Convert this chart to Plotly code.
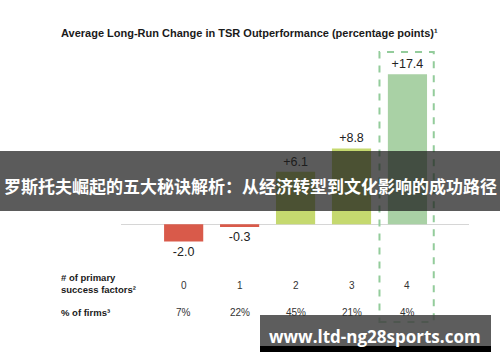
import plotly.graph_objects as go

# ---- data ----
factors = [0, 1, 2, 3, 4]
factor_labels = ["0", "1", "2", "3", "4"]
tsr_change = [-2.0, -0.3, 6.1, 8.8, 17.4]
value_labels = ["-2.0", "-0.3", "+6.1", "+8.8", "+17.4"]
pct_firms = ["7%", "22%", "45%", "21%", "4%"]
bar_colors = ["#d95a4a", "#d95a4a", "#c5d96f", "#c5d96f", "#a9d1a5"]

title_text = "Average Long-Run Change in TSR Outperformance (percentage points)¹"
row1_label = "# of primary<br>success factors²"
row2_label = "% of firms³"
banner_text = "罗斯托夫崛起的五大秘诀解析：从经济转型到文化影响的成功路径"
watermark_text = "www.ltd-ng28sports.com"

# ---- layout geometry (pixels) ----
W, H = 500, 362
L, R, T, B = 121, 469, 50, 260


def px_x(px):
    return (px - L) / (R - L)


def px_y(py):
    return (B - py) / (B - T)


SANS = "Liberation Sans, Arial, sans-serif"

fig = go.Figure()
fig.add_trace(go.Bar(
    x=factors, y=tsr_change, width=0.7,
    marker=dict(color=bar_colors, line=dict(width=0)),
    text=value_labels, textposition="outside", cliponaxis=False,
    textfont=dict(family=SANS, size=12.5, color="#222222"),
    hoverinfo="skip",
))


def ann(text, x, y, xref="paper", xanchor="center", align="center", **font):
    return dict(text=text, xref=xref, yref="paper", x=x, y=y,
                xanchor=xanchor, yanchor="middle", align=align,
                showarrow=False, font=font)


annotations = []
annotations.append(ann("<b>" + title_text + "</b>", px_x(249.5), px_y(33),
                       family=SANS, size=11, color="#1a1a1a"))
annotations.append(ann("<b>" + row1_label + "</b>", px_x(59), px_y(283.5),
                       xanchor="left", align="left",
                       family=SANS, size=9.5, color="#1a1a1a"))
annotations.append(ann("<b>" + row2_label + "</b>", px_x(59), px_y(312),
                       xanchor="left", align="left",
                       family=SANS, size=9.5, color="#1a1a1a"))
for f, lab, pct in zip(factors, factor_labels, pct_firms):
    annotations.append(ann(lab, f, px_y(285), xref="x",
                           family=SANS, size=10, color="#333333"))
    annotations.append(ann(pct, f, px_y(312), xref="x",
                           family=SANS, size=10, color="#333333"))

shapes = []
# highlight dashed box around category 4
shapes.append(dict(type="rect", xref="x", yref="paper",
                   x0=factors[4] - 0.5, x1=factors[4] + 0.47,
                   y0=px_y(322), y1=px_y(52),
                   line=dict(color="#93cc9b", width=2, dash="7px,7px"),
                   fillcolor="rgba(0,0,0,0)", layer="above"))
# overlay banner
shapes.append(dict(type="rect", xref="paper", yref="paper",
                   x0=px_x(0), x1=px_x(500), y0=px_y(211), y1=px_y(151),
                   line=dict(width=0), fillcolor="rgba(28,28,28,0.72)", layer="above"))
# watermark box
shapes.append(dict(type="rect", xref="paper", yref="paper",
                   x0=px_x(260), x1=px_x(491), y0=px_y(346), y1=px_y(315),
                   line=dict(width=0), fillcolor="rgba(66,66,66,0.86)", layer="above"))
shapes.append(dict(type="rect", xref="paper", yref="paper",
                   x0=px_x(260), x1=px_x(491), y0=px_y(352), y1=px_y(346),
                   line=dict(width=0), fillcolor="rgba(0,0,0,1)", layer="above"))

annotations.append(ann("<b>" + banner_text + "</b>", px_x(250), px_y(185),
                       family="Noto Sans CJK SC", size=17, color="#ffffff"))
annotations.append(ann("<b>" + watermark_text + "</b>", px_x(375), px_y(336),
                       family="Open Sans", size=17, color="#ffffff"))

fig.update_layout(
    width=W, height=H,
    margin=dict(l=L, r=W - R, t=T, b=H - B, pad=0),
    paper_bgcolor="white", plot_bgcolor="white",
    showlegend=False,
    xaxis=dict(range=[-1.12, 5.1], showgrid=False, zeroline=False,
               showticklabels=False, showline=False, ticks=""),
    yaxis=dict(range=[-4.14, 20.22], showgrid=False, zeroline=True,
               zerolinecolor="#d6d6d6", zerolinewidth=1,
               showticklabels=False, showline=False, ticks=""),
    annotations=annotations,
    shapes=shapes,
)

fig.write_html("out.html", post_script="document.body.style.margin='0';",
               config={"displayModeBar": False})
